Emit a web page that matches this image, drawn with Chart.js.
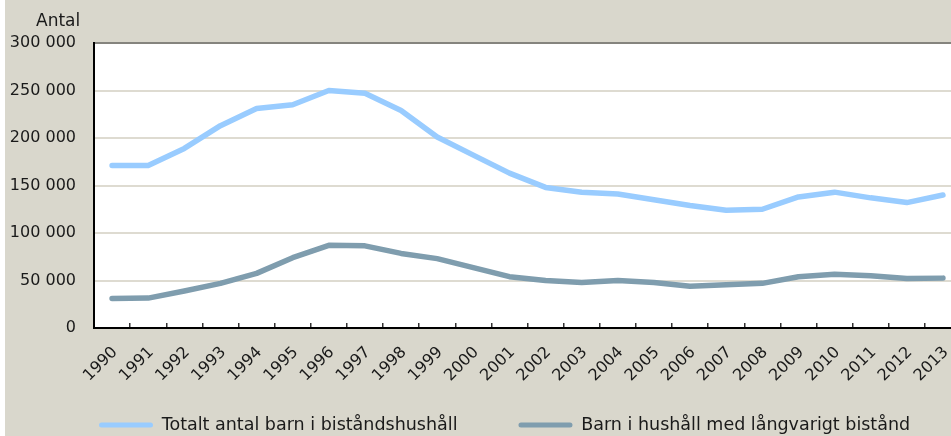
<!DOCTYPE html>
<html>
<head>
<meta charset="utf-8">
<script src="https://cdn.jsdelivr.net/npm/chart.js@4.4.1/dist/chart.umd.min.js"></script>
<style>
    body { margin: 0; background: #ffffff; overflow: hidden; width: 951px; height: 436px; }
    #wrap { position: absolute; left: 5px; top: 0; width: 1010px; height: 436px; background: #d9d7cc; }
</style>
</head>
<body>
<div id="wrap"><canvas id="antalChart" width="1010" height="436"></canvas></div>
<script>
// 1. DATA
const years = ['1990', '1991', '1992', '1993', '1994', '1995', '1996', '1997', '1998', '1999', '2000', '2001',
               '2002', '2003', '2004', '2005', '2006', '2007', '2008', '2009', '2010', '2011', '2012', '2013'];
const totaltBarn = [171000, 171000, 189000, 213000, 231000, 235000, 250000, 247000, 229000, 201000, 182000, 163000,
                    148000, 143000, 141000, 135000, 129000, 124000, 125000, 138000, 143000, 137000, 132000, 140000];
const langvarigtBarn = [31000, 31500, 39000, 47000, 57500, 74000, 87000, 86500, 78500, 73000, 63500, 54000,
                        50000, 48000, 50000, 48000, 44000, 45500, 47000, 54000, 56500, 55000, 52000, 52500];
const yTicks = [0, 50000, 100000, 150000, 200000, 250000, 300000];
const seriesNames = ['Totalt antal barn i biståndshushåll', 'Barn i hushåll med långvarigt bistånd'];
const yTitle = 'Antal';

const FONT = 'DejaVu Sans';
const LEGEND_SIZE = 17.5;

// 2. PLUGINS
// white plot area, "Antal" above the y axis
const plotBg = {
    id: 'plotBg',
    beforeDraw(chart) {
        const { ctx, chartArea: a } = chart;
        ctx.save();
        ctx.fillStyle = '#ffffff';
        ctx.fillRect(a.left, a.top, a.right - a.left, a.bottom - a.top);
        ctx.restore();
    },
    afterDraw(chart) {
        const ctx = chart.ctx;
        ctx.save();
        ctx.font = '17px ' + FONT;
        ctx.fillStyle = '#1a1a1a';
        ctx.textAlign = 'left';
        ctx.textBaseline = 'middle';
        ctx.fillText(yTitle, 31, 22);
        ctx.restore();
    }
};

// legend sits lower and further right than chart.js would put it
const legendPlace = {
    id: 'legendPlace',
    afterLayout(chart) {
        const lg = chart.legend;
        const pad = lg.options.labels.padding;
        lg.left = 94 - pad;
        lg.right = chart.width;
        lg.top = 425 - pad - LEGEND_SIZE / 2;
    }
};

// 3. CHART
const ctx = document.getElementById('antalChart').getContext('2d');
new Chart(ctx, {
    type: 'line',
    data: {
        labels: years,
        datasets: [
            { label: seriesNames[0], data: totaltBarn, borderColor: '#99ccff', backgroundColor: '#99ccff' },
            { label: seriesNames[1], data: langvarigtBarn, borderColor: '#7f9dae', backgroundColor: '#7f9dae' }
        ]
    },
    options: {
        responsive: false,
        animation: false,
        layout: { padding: { left: 0, right: 54, top: 43, bottom: 0 } },
        elements: {
            line: { borderWidth: 5.5, tension: 0, borderCapStyle: 'round', borderJoinStyle: 'round' },
            point: { radius: 0, hoverRadius: 0 }
        },
        plugins: {
            tooltip: { enabled: false },
            legend: {
                position: 'bottom',
                align: 'start',
                maxHeight: 40,
                labels: {
                    font: { family: FONT, size: LEGEND_SIZE },
                    color: '#1a1a1a',
                    boxWidth: 54,
                    boxHeight: 5,
                    padding: 61,
                    useBorderRadius: true,
                    borderRadius: 2.5,
                    generateLabels(chart) {
                        return Chart.defaults.plugins.legend.labels.generateLabels(chart)
                            .map(l => Object.assign(l, { lineWidth: 0 }));
                    }
                }
            }
        },
        scales: {
            x: {
                offset: true,
                grid: { offset: true, drawOnChartArea: false, tickLength: -5, color: '#333333', lineWidth: 1.5 },
                border: { color: '#000000', width: 2 },
                ticks: {
                    font: { family: FONT, size: 16 },
                    color: '#1a1a1a',
                    minRotation: 45,
                    maxRotation: 45,
                    padding: 20,
                    labelOffset: 3
                },
                afterFit: (scale) => { scale.height = 68; }
            },
            y: {
                min: 0,
                max: 300000,
                afterBuildTicks: (scale) => { scale.ticks = yTicks.map(v => ({ value: v })); },
                grid: {
                    drawTicks: false,
                    lineWidth: 2,
                    color: (c) => c.tick && c.tick.value === 300000 ? '#85847e' : '#dedbd1'
                },
                border: { color: '#000000', width: 2 },
                ticks: {
                    font: { family: FONT, size: 16 },
                    color: '#1a1a1a',
                    padding: 18,
                    callback: (v) => String(v).replace(/\B(?=(\d{3})+(?!\d))/g, ' ')
                },
                afterFit: (scale) => { scale.width = 89; }
            }
        }
    },
    plugins: [plotBg, legendPlace]
});
</script>
</body>
</html>
